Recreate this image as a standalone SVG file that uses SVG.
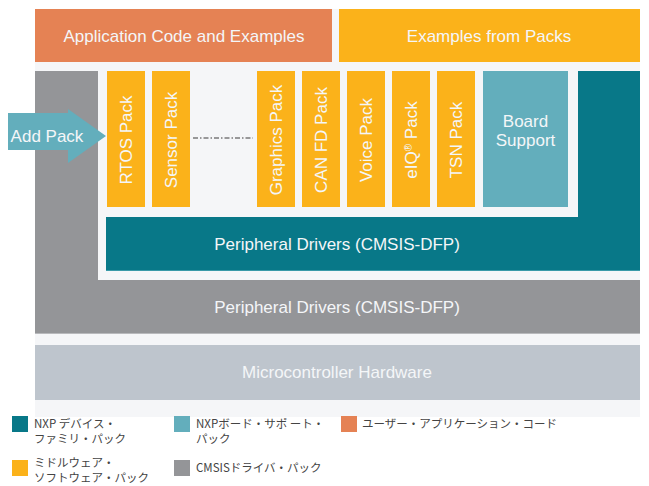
<svg xmlns="http://www.w3.org/2000/svg" width="649" height="486" viewBox="0 0 649 486">
<style>
.lbl{font-family:"Liberation Sans",Arial,sans-serif;font-size:17px;fill:#f4f6f8;text-anchor:middle}
.pack{fill:#fbb21a}
.leg{font-family:"Noto Sans CJK JP",sans-serif;font-size:11.5px;fill:#444}
</style>
<rect x="0" y="0" width="649" height="486" fill="#ffffff"/>
<rect x="35" y="9" width="605" height="408" fill="#f5f6f8"/>

<g id="app-code">
<rect x="35" y="9" width="297" height="53" fill="#e58254"/>
<text class="lbl" x="184" y="42">Application Code and Examples</text>
</g>
<g id="examples-packs">
<rect x="339" y="9" width="301" height="53" fill="#fbb21a"/>
<text class="lbl" x="489" y="42">Examples from Packs</text>
</g>

<g id="cmsis-driver">
<rect x="35" y="71" width="605" height="263" fill="#949598"/>
<rect x="35" y="333" width="605" height="1" fill="#b8b9bc"/>
<rect x="98" y="71" width="542" height="209" fill="#f5f6f8"/>
<text class="lbl" x="337" y="313">Peripheral Drivers (CMSIS-DFP)</text>
</g>

<g id="device-family">
<path d="M578 71H640V271H106V217H578Z" fill="#087888"/>
<rect x="106" y="270" width="534" height="1" fill="#3a9aa8"/>
<text class="lbl" x="337" y="250">Peripheral Drivers (CMSIS-DFP)</text>
</g>

<g id="hardware">
<rect x="35" y="345" width="605" height="55" fill="#bec5cd"/>
<text class="lbl" x="337" y="378">Microcontroller Hardware</text>
</g>

<g id="rtos-pack"><rect class="pack" x="107" y="71" width="38" height="136"/><text class="lbl" transform="translate(132 140) rotate(-90)">RTOS Pack</text></g>
<g id="sensor-pack"><rect class="pack" x="152" y="71" width="38" height="136"/><text class="lbl" transform="translate(177 140) rotate(-90)">Sensor Pack</text></g>
<g id="graphics-pack"><rect class="pack" x="257" y="71" width="38" height="136"/><text class="lbl" transform="translate(282 140) rotate(-90)">Graphics Pack</text></g>
<g id="canfd-pack"><rect class="pack" x="302" y="71" width="38" height="136"/><text class="lbl" transform="translate(327 140) rotate(-90)">CAN FD Pack</text></g>
<g id="voice-pack"><rect class="pack" x="347" y="71" width="38" height="136"/><text class="lbl" transform="translate(372 140) rotate(-90)">Voice Pack</text></g>
<g id="eiq-pack"><rect class="pack" x="392" y="71" width="38" height="136"/><text class="lbl" transform="translate(417 140) rotate(-90)">eIQ<tspan font-size="10" baseline-shift="super">®</tspan> Pack</text></g>
<g id="tsn-pack"><rect class="pack" x="437" y="71" width="38" height="136"/><text class="lbl" transform="translate(462 140) rotate(-90)">TSN Pack</text></g>

<g id="board-support">
<rect x="483" y="71" width="85" height="136" fill="#63aebc"/>
<text class="lbl" x="525.5" y="127">Board</text>
<text class="lbl" x="525.5" y="146">Support</text>
</g>

<g id="add-pack">
<path d="M8 113H68V109L106 136L68 163V150H8Z" fill="#63aebc"/>
<text class="lbl" x="47" y="142">Add Pack</text>
</g>

<g id="connectors">
<line x1="193" y1="138" x2="253" y2="138" stroke="#7a7a7a" stroke-width="1.5" stroke-dasharray="5 2 1.5 2"/>
</g>

<g id="legend">
<rect x="12" y="416" width="16" height="16" fill="#087888"/>
<text class="leg" x="34" y="428">NXP デバイス・</text>
<text class="leg" x="34" y="443">ファミリ・パック</text>
<rect x="174" y="416" width="16" height="16" fill="#63aebc"/>
<text class="leg" x="196" y="428">NXPボード・サポ ート・</text>
<text class="leg" x="196" y="443">パック</text>
<rect x="341" y="416" width="16" height="16" fill="#e58254"/>
<text class="leg" x="362" y="428">ユーザー・アプリケーション・コード</text>
<rect x="12" y="460" width="16" height="16" fill="#fbb21a"/>
<text class="leg" x="34" y="467">ミドルウェア・</text>
<text class="leg" x="34" y="482">ソフトウェア・パック</text>
<rect x="174" y="460" width="16" height="16" fill="#949598"/>
<text class="leg" x="196" y="472">CMSISドライバ・パック</text>
</g>
</svg>
